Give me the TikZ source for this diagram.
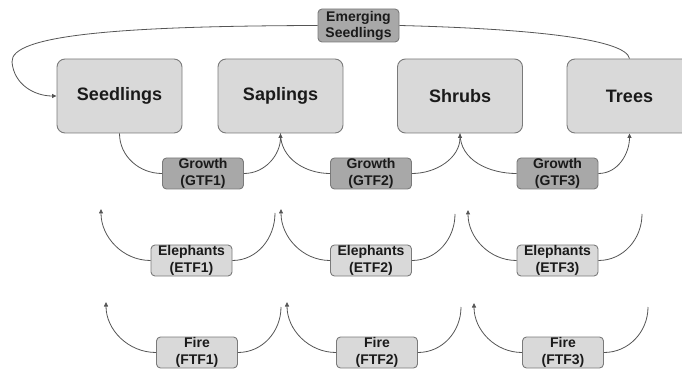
\documentclass[tikz,border=0pt]{standalone}
\usepackage{fontspec}
\setmainfont{Liberation Sans}
\usetikzlibrary{arrows.meta}
\definecolor{lightbox}{HTML}{D9D9D9}
\definecolor{darkbox}{HTML}{A8A8A8}
\definecolor{edgegrey}{HTML}{7A7A7A}
\definecolor{linkgrey}{HTML}{555555}
\definecolor{inkgrey}{HTML}{1A1A1A}
\tikzset{
  stage/.style={draw=edgegrey, line width=0.9pt, fill=lightbox, rounded corners=8pt,
    minimum width=125pt, minimum height=74pt, inner sep=0pt, text=inkgrey,
    font=\bfseries\fontsize{18}{21}\selectfont},
  factor/.style={draw=edgegrey, line width=0.9pt, rounded corners=4pt,
    minimum width=81pt, minimum height=31pt, inner sep=0pt, align=center, text=inkgrey,
    font=\bfseries\fontsize{14}{17}\selectfont},
  growthbox/.style={factor, fill=darkbox},
  hazardbox/.style={factor, fill=lightbox},
  link/.style={draw=linkgrey, line width=0.8pt},
  linkarrow/.style={link, -{Triangle[length=4.5pt,width=4pt]}},
}
\begin{document}
\begin{tikzpicture}[x=1pt, y=-1pt]
\useasboundingbox (0,0) rectangle (682,371);
\clip (0,0) rectangle (682,371);

% life stages
\node[stage] (seed)  at (119.5,96) {Seedlings};
\node[stage] (sap)   at (280.5,96) {Saplings};
\node[stage] (shrub) at (460,96)   {Shrubs};
\node[stage] (tree)  at (629.5,96) {Trees};

% recruitment
\node[growthbox, minimum height=33pt] (emerge) at (358.5,25.5) {Emerging\\[-1pt]Seedlings};

% growth transitions
\node[growthbox] (g1) at (203,173.5)   {Growth\\(GTF1)};
\node[growthbox] (g2) at (371,173.5)   {Growth\\(GTF2)};
\node[growthbox] (g3) at (557.5,173.5) {Growth\\(GTF3)};

% elephant transitions
\node[hazardbox] (e1) at (191.5,260.5) {Elephants\\(ETF1)};
\node[hazardbox] (e2) at (371,260.5)   {Elephants\\(ETF2)};
\node[hazardbox] (e3) at (557.5,260.5) {Elephants\\(ETF3)};

% fire transitions
\node[hazardbox] (f1) at (197,352.5) {Fire\\(FTF1)};
\node[hazardbox] (f2) at (377,352.5) {Fire\\(FTF2)};
\node[hazardbox] (f3) at (563,352.5) {Fire\\(FTF3)};

% free ends of the elephant and fire arcs
\coordinate (ea1) at (101,209);
\coordinate (ea2) at (281,209);
\coordinate (ea3) at (468,210);
\coordinate (eb1) at (275,213);
\coordinate (eb2) at (455,214);
\coordinate (eb3) at (642,214);
\coordinate (fa1) at (106,302);
\coordinate (fa2) at (287,302);
\coordinate (fa3) at (474,303);
\coordinate (fb1) at (281,307);
\coordinate (fb2) at (461,307);
\coordinate (fb3) at (648,307);

% recruitment loop
\draw[link] (emerge.east) .. controls (540,29) and (626,40) .. (tree.north);
\draw[linkarrow] (emerge.west) .. controls (120,26) and (10,35) .. (12,62)
  .. controls (14,85) and (35,96) .. (seed.west);

% growth arcs
\draw[link] (seed.south) to[out=-90, in=180] (g1.west);
\draw[linkarrow] (g1.east) to[out=0, in=-90] (sap.south);
\draw[link] (sap.south) to[out=-90, in=180] (g2.west);
\draw[linkarrow] (g2.east) to[out=0, in=-90] (shrub.south);
\draw[link] (shrub.south) to[out=-90, in=180] (g3.west);
\draw[linkarrow] (g3.east) to[out=0, in=-90] (tree.south);

% elephant arcs
\foreach \i in {1,2,3} {
  \draw[link] (eb\i) to[out=-90, in=0] (e\i.east);
  \draw[linkarrow] (e\i.west) to[out=180, in=-90] (ea\i);
  \draw[link] (fb\i) to[out=-90, in=0] (f\i.east);
  \draw[linkarrow] (f\i.west) to[out=180, in=-90] (fa\i);
}
\end{tikzpicture}
\end{document}
